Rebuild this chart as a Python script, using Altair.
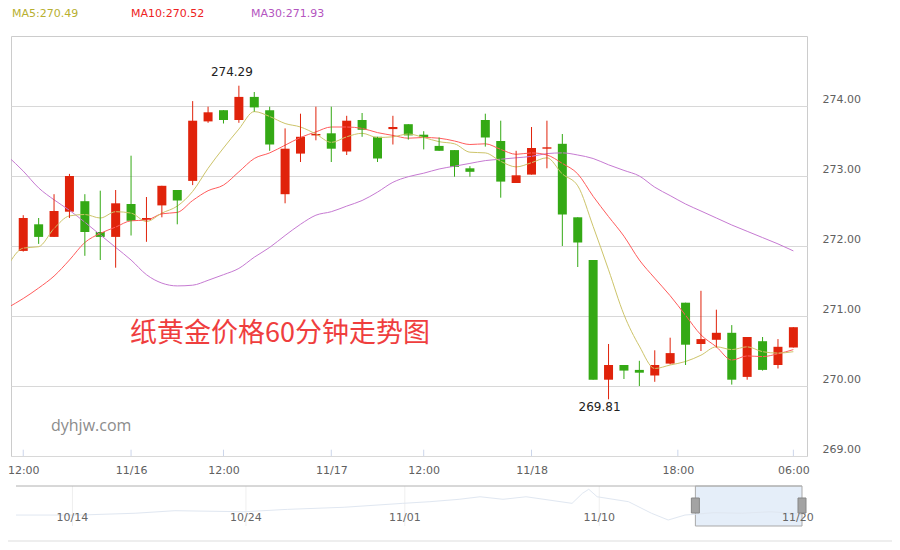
import altair as alt
import pandas as pd

# ---------------- data ----------------
opens = [271.93, 272.31, 272.13, 272.49, 272.64, 272.20, 272.13, 272.60, 272.37, 272.58,
         272.80, 272.93, 273.78, 273.94, 273.80, 274.13, 273.94, 272.74, 273.32, 273.58,
         273.61, 273.35, 273.80, 273.56, 273.67, 273.74, 273.59, 273.43, 273.37, 273.11,
         273.80, 273.50, 272.90, 273.02, 273.39, 273.46, 272.41, 271.80, 270.09, 270.30,
         270.23, 270.15, 270.32, 271.19, 270.60, 270.66, 270.76, 270.13, 270.64, 270.30,
         270.55]
highs = [272.44, 272.40, 272.74, 273.03, 272.74, 272.79, 272.80, 273.29, 272.70, 272.86,
         272.80, 274.07, 273.99, 273.94, 274.29, 274.20, 273.99, 273.68, 273.89, 273.99,
         273.99, 273.86, 273.90, 273.56, 273.86, 273.74, 273.64, 273.55, 273.37, 273.14,
         273.89, 273.79, 273.36, 273.70, 273.79, 273.60, 272.41, 271.80, 270.60, 270.30,
         270.36, 270.51, 270.69, 271.19, 271.36, 271.09, 270.87, 270.70, 270.70, 270.67,
         270.84]
lows = [271.92, 272.03, 272.13, 272.40, 271.86, 271.80, 271.69, 272.15, 272.06, 272.41,
        272.31, 272.87, 273.76, 273.75, 273.76, 273.92, 273.36, 272.61, 273.20, 273.51,
        273.20, 273.30, 273.56, 273.20, 273.45, 273.52, 273.38, 273.36, 272.99, 272.99,
        273.42, 272.69, 272.90, 273.02, 273.11, 272.00, 271.70, 270.09, 269.81, 270.10,
        270.00, 270.06, 270.31, 270.30, 270.50, 270.55, 270.02, 270.09, 270.22, 270.25,
        270.55]
closes = [272.40, 272.13, 272.50, 273.00, 272.20, 272.13, 272.61, 272.36, 272.40, 272.86,
          272.65, 273.79, 273.91, 273.80, 274.13, 273.98, 273.45, 273.39, 273.56, 273.60,
          273.39, 273.79, 273.66, 273.25, 273.70, 273.58, 273.55, 273.36, 273.13, 273.06,
          273.55, 272.92, 273.01, 273.40, 273.41, 272.45, 272.05, 270.09, 270.30, 270.22,
          270.19, 270.30, 270.47, 270.59, 270.67, 270.76, 270.09, 270.70, 270.23, 270.56,
          270.84]

ma5 = [271.97, 271.99, 272.25, 272.43, 272.45, 272.40, 272.49, 272.47, 272.35, 272.47,
       272.57, 272.78, 273.11, 273.40, 273.67, 273.92, 273.85, 273.75, 273.70, 273.60,
       273.48, 273.56, 273.61, 273.55, 273.56, 273.60, 273.55, 273.49, 273.46, 273.34,
       273.33, 273.21, 273.13, 273.19, 273.26, 273.03, 272.86, 272.28, 271.66, 271.02,
       270.57, 270.25, 270.30, 270.35, 270.44, 270.56, 270.52, 270.56, 270.49, 270.47,
       270.49]
ma10 = [271.25, 271.40, 271.57, 271.80, 272.05, 272.18, 272.27, 272.36, 272.37, 272.46,
        272.48, 272.65, 272.79, 272.87, 273.06, 273.25, 273.33, 273.44, 273.55, 273.63,
        273.70, 273.70, 273.68, 273.62, 273.58, 273.54, 273.55, 273.54, 273.50, 273.45,
        273.46, 273.38, 273.31, 273.33, 273.30, 273.18, 273.03, 272.71, 272.42, 272.14,
        271.80, 271.54, 271.29, 271.01, 270.73, 270.56, 270.37, 270.43, 270.42, 270.46,
        270.52]
ma30 = [273.07, 272.83, 272.66, 272.51, 272.34, 272.16, 271.98, 271.80, 271.59, 271.47,
        271.43, 271.44, 271.51, 271.59, 271.68, 271.84, 271.98, 272.15, 272.31, 272.44,
        272.49, 272.57, 272.65, 272.77, 272.91, 272.99, 273.04, 273.10, 273.14, 273.18,
        273.22, 273.24, 273.26, 273.28, 273.32, 273.33, 273.30, 273.25, 273.16, 273.08,
        273.00, 272.84, 272.72, 272.60, 272.50, 272.40, 272.30, 272.21, 272.12, 272.03,
        271.93]
# value of each average on the candle just before the visible window
ma_prev = {"MA5": 271.72, "MA10": 271.12, "MA30": 273.28}

tick_pos = [0, 7, 13, 20, 26, 33, 42.5, 50]
tick_labels = ["12:00", "11/16", "12:00", "11/17", "12:00", "11/18", "18:00", "06:00"]
y_ticks = [269, 270, 271, 272, 273, 274]

nav_idx = [0, 30, 57, 76, 109, 130, 157, 185, 198, 212, 222, 233, 244, 266, 271, 274,
           278, 293, 304, 312, 320, 334, 347, 361, 376]
nav_price = [271.3, 271.3, 272.5, 274.2, 273.5, 275.1, 276.5, 279.1, 280.2, 281.8, 283.5,
             281.8, 283.5, 279.1, 285.8, 288.5, 283.5, 280.2, 272.5, 268.0, 271.3, 272.9,
             272.5, 273.5, 272.0]
nav_tick_pos = [27, 110, 186, 279, 374]
nav_tick_labels = ["10/14", "10/24", "11/01", "11/10", "11/20"]
nav_window = [325, 376]

title_text = "纸黄金价格60分钟走势图"
site_text = "dyhjw.com"

# ---------------- tables ----------------
n = len(opens)
cdf = pd.DataFrame({"i": list(range(n)), "open": opens, "high": highs,
                    "low": lows, "close": closes})

rows = []
for name, arr in [("MA30", ma30), ("MA10", ma10), ("MA5", ma5)]:
    rows.append({"series": name, "i": -1, "v": ma_prev[name]})
    for k, v in enumerate(arr):
        rows.append({"series": name, "i": k, "v": v})
madf = pd.DataFrame(rows)

hi_i = int(cdf["high"].idxmax())
lo_i = int(cdf["low"].idxmin())
ann_hi = pd.DataFrame({"i": [hi_i], "v": [highs[hi_i]], "t": [f"{highs[hi_i]:.2f}"]})
ann_lo = pd.DataFrame({"i": [lo_i], "v": [lows[lo_i]], "t": [f"{lows[lo_i]:.2f}"]})

ticks_df = pd.DataFrame({"i": tick_pos, "open": [269] * len(tick_pos),
                         "close": [269.09] * len(tick_pos)})

X_SCALE = alt.Scale(domain=[-0.47, 50.56], nice=False, zero=False)
Y_SCALE = alt.Scale(domain=[269, 275], nice=False, zero=False)
RED, GREEN = "#e0230b", "#34a915"
FONT = "DejaVu Sans"

label_expr = " : ".join(
    f"datum.value == {p} ? '{t}'" for p, t in zip(tick_pos, tick_labels)) + " : ''"

dir_color = alt.condition("datum.close >= datum.open", alt.value(RED), alt.value(GREEN))

X_AXIS = alt.Axis(values=tick_pos, labelExpr=label_expr, grid=False, ticks=False,
                  domain=False, labelPadding=8, labelFontSize=11, labelColor="#606060",
                  labelFont=FONT, title=None, labelFlush=False)
Y_AXIS = alt.Axis(orient="right", values=y_ticks, format=".2f", grid=True,
                  gridColor="#d8d8d8", ticks=False, tickSize=0, domain=False,
                  labelPadding=15, labelOffset=-7, labelColor="#606060",
                  labelFontSize=11, labelFont=FONT, title=None)

bodies = alt.Chart(cdf).mark_bar(size=9).encode(
    x=alt.X("i:Q", scale=X_SCALE, axis=X_AXIS),
    y=alt.Y("open:Q", scale=Y_SCALE, axis=Y_AXIS),
    y2="close:Q",
    color=dir_color,
)

lines = alt.Chart(madf).mark_line(strokeWidth=1, interpolate="monotone", clip=True).encode(
    x=alt.X("i:Q"),
    y=alt.Y("v:Q"),
    color=alt.Color("series:N",
                    scale=alt.Scale(domain=["MA5", "MA10", "MA30"],
                                    range=["#cdc46a", "#ff5c5c", "#c67ad2"]),
                    legend=None),
    detail="series:N",
)

wicks = alt.Chart(cdf).mark_rule(strokeWidth=1).encode(
    x=alt.X("i:Q"),
    y=alt.Y("low:Q"),
    y2="high:Q",
    color=dir_color,
)

inner_ticks = alt.Chart(ticks_df).mark_rule(color="#ccd6eb", strokeWidth=1).encode(
    x=alt.X("i:Q"),
    y=alt.Y("open:Q"),
    y2="close:Q",
)

hi_text = alt.Chart(ann_hi).mark_text(font=FONT, fontSize=12, color="#222222", dx=-7,
                                      dy=-14, baseline="middle").encode(
    x=alt.X("i:Q"), y=alt.Y("v:Q"), text="t:N")
lo_text = alt.Chart(ann_lo).mark_text(font=FONT, fontSize=12, color="#222222", dx=-9,
                                      dy=8, baseline="middle").encode(
    x=alt.X("i:Q"), y=alt.Y("v:Q"), text="t:N")

one = pd.DataFrame({"a": [0]})


def label(text, x, y, color, size, font, align="left"):
    return alt.Chart(one).mark_text(text=text, color=color, fontSize=size, font=font,
                                    align=align, baseline="middle").encode(
        x=alt.value(x), y=alt.value(y))


legend5 = label(f"MA5:{ma5[-1]:.2f}", 1, -22, "#b8b030", 11, FONT)
legend10 = label(f"MA10:{ma10[-1]:.2f}", 120, -22, "#ee2222", 11, FONT)
legend30 = label(f"MA30:{ma30[-1]:.2f}", 240, -22, "#b455c0", 11, FONT)
water1 = label(title_text, 119, 298, "#ef3e3e", 27, "Noto Sans CJK SC")
water2 = label(site_text, 40, 390, "#8c8c8c", 16, "Open Sans")

main = alt.layer(bodies, lines, wicks, inner_ticks, hi_text, lo_text,
                 legend5, legend10, legend30, water1, water2)

# ---------------- navigator ----------------
NX = alt.Scale(domain=[0, 376], nice=False, zero=False)
NY = alt.Scale(domain=[264, 290.67], range=[490, 450], nice=False, zero=False)
navdf = pd.DataFrame({"n": nav_idx, "p": nav_price})
navticks = pd.DataFrame({"n": nav_tick_pos, "t": nav_tick_labels})
win = pd.DataFrame({"a": [nav_window[0]], "b": [nav_window[1]]})
handles = pd.DataFrame({"n": nav_window})
frame = pd.DataFrame({"a": [0], "b": [376]})

nav_grid = alt.Chart(navticks).mark_rule(color="#efefef").encode(
    x=alt.X("n:Q", scale=NX, axis=None), y=alt.value(450), y2=alt.value(490))
nav_win = alt.Chart(win).mark_rect(fill="#e5eef9", stroke="#a9a9a9", strokeWidth=1).encode(
    x=alt.X("a:Q"), x2="b:Q", y=alt.value(450), y2=alt.value(490))
nav_line = alt.Chart(navdf).mark_line(color="#e0e7f1", strokeWidth=1).encode(
    x=alt.X("n:Q"), y=alt.Y("p:Q", scale=NY, axis=None))
nav_top = alt.Chart(frame).mark_rule(color="#b0b0b0").encode(
    x=alt.X("a:Q"), x2="b:Q", y=alt.value(450))
nav_labels = alt.Chart(navticks).mark_text(font=FONT, fontSize=11, color="#666666",
                                           baseline="middle").encode(
    x=alt.X("n:Q"), y=alt.value(482), text="t:N")
nav_handles = alt.Chart(handles).mark_bar(size=8, color="#a3a3a3", stroke="#878787",
                                          strokeWidth=1).encode(
    x=alt.X("n:Q"), y=alt.value(462), y2=alt.value(477))
sep = alt.Chart(one).mark_rule(color="#dddddd").encode(
    x=alt.value(-3), x2=alt.value(881), y=alt.value(505))

nav = alt.layer(nav_grid, nav_win, nav_line, nav_top, nav_labels, nav_handles, sep)

chart = alt.layer(main, nav).resolve_scale(
    x="independent", y="independent"
).properties(
    width=796, height=420,
    autosize=alt.AutoSizeParams(type="none"),
    padding={"left": 3, "top": 28, "right": 85, "bottom": 86},
    background="white",
).configure_view(stroke="#cccccc", strokeWidth=1)

chart.save("out.html", embed_options={"renderer": "svg", "actions": False})
